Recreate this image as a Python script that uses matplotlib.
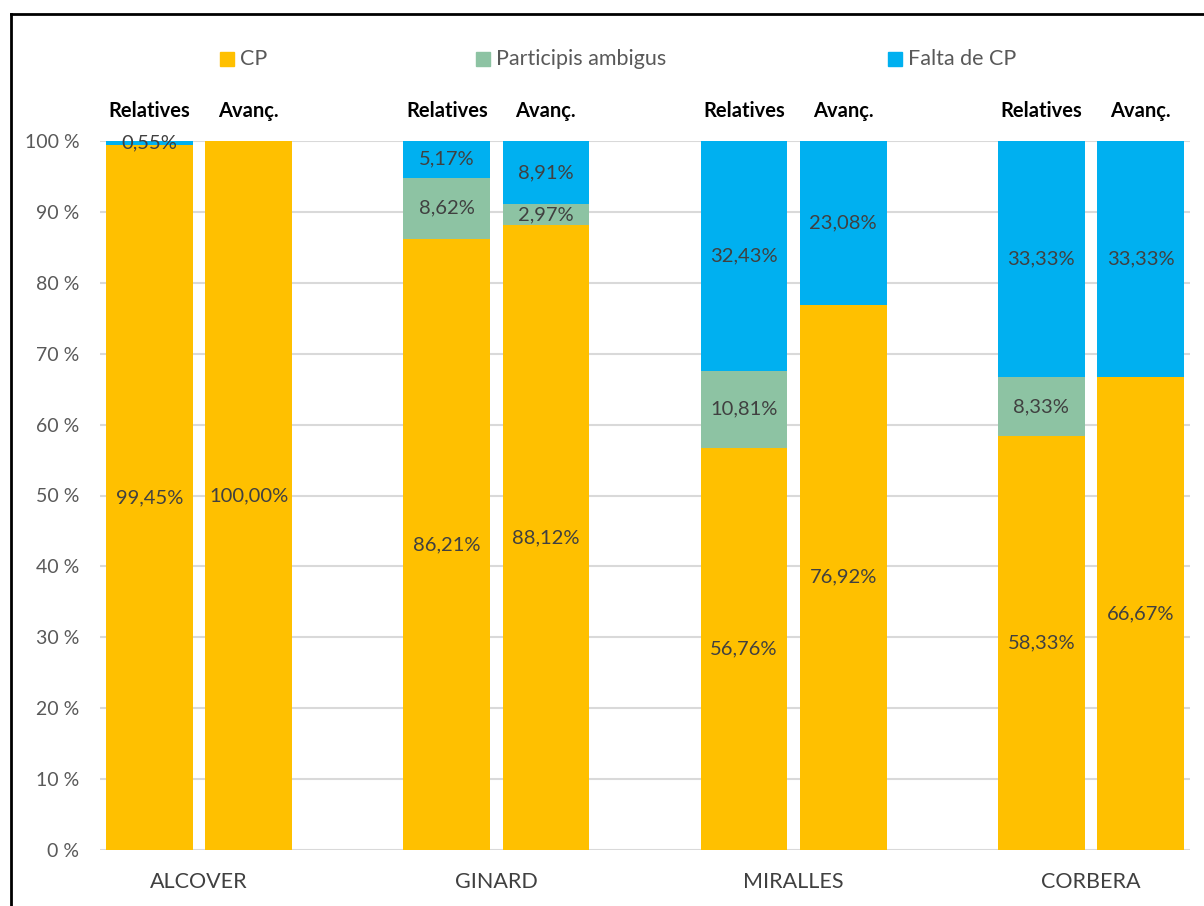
import matplotlib.pyplot as plt
from matplotlib.patches import Rectangle
from matplotlib.lines import Line2D

# Percentages per author and text type
authors = ["ALCOVER", "GINARD", "MIRALLES", "CORBERA"]
bar_types = ["Relatives", "Avanç."]
series_names = ["CP", "Participis ambigus", "Falta de CP"]
cp = [99.45, 100.00, 86.21, 88.12, 56.76, 76.92, 58.33, 66.67]
ambigus = [0.00, 0.00, 8.62, 2.97, 10.81, 0.00, 8.33, 0.00]
falta = [0.55, 0.00, 5.17, 8.91, 32.43, 23.08, 33.33, 33.33]
yticks = [0, 10, 20, 30, 40, 50, 60, 70, 80, 90, 100]

colors = ["#FFC000", "#8DC3A3", "#00B0F0"]
font = "Lato"
plt.rcParams["font.family"] = [font, "DejaVu Sans"]

fig = plt.figure(figsize=(12.04, 9.06), dpi=100)
ax = fig.add_axes([100 / 1204, 56 / 906, 1090 / 1204, 709 / 906])

# bar positions: two bars per author, one empty slot between authors
xpos = []
for g in range(len(authors)):
    xpos += [3 * g, 3 * g + 1]

bottom = [0.0] * len(xpos)
for vals, col in zip([cp, ambigus, falta], colors):
    ax.bar(xpos, vals, bottom=bottom, width=0.875, color=col, zorder=2)
    for x, b, v in zip(xpos, bottom, vals):
        if v > 0:
            ax.text(x, b + v / 2, f"{v:.2f}%".replace(".", ","), ha="center",
                    va="center", fontsize=14.5, color="#404040", zorder=3)
    bottom = [b + v for b, v in zip(bottom, vals)]

ax.set_xlim(-0.5, 10.5)
ax.set_ylim(0, 100)
ax.set_yticks(yticks)
ax.set_yticklabels([f"{t} %" for t in yticks], fontsize=14, color="#595959")
ax.set_xticks([3 * g + 0.5 for g in range(len(authors))])
ax.set_xticklabels(authors, fontsize=15.5, color="#404040")
ax.tick_params(axis="both", length=0)
ax.tick_params(axis="y", pad=15)
ax.tick_params(axis="x", pad=16)
ax.grid(axis="y", color="#D9D9D9", linewidth=1.5, zorder=0)
for s in ax.spines.values():
    s.set_visible(False)

# bar type headers above each bar
for x, name in zip(xpos, bar_types * len(authors)):
    ax.text(x, 104.2, name, ha="center", va="center", fontsize=14.5,
            fontweight="bold", color="black", clip_on=False)

# legend row
legend_x = [220, 476, 888]
for lx, name, col in zip(legend_x, series_names, colors):
    fig.patches.append(Rectangle((lx / 1204, 1 - 66 / 906), 14 / 1204, 14 / 906,
                                 transform=fig.transFigure, color=col))
    fig.text((lx + 20) / 1204, 1 - 59 / 906, name, ha="left", va="center",
             fontsize=15.5, color="#595959")

# chart frame edges
fig.add_artist(Line2D([11 / 1204, 11 / 1204], [0, 1 - 14 / 906],
                      transform=fig.transFigure, color="black", linewidth=2))
fig.add_artist(Line2D([11 / 1204, 1], [1 - 14 / 906, 1 - 14 / 906],
                      transform=fig.transFigure, color="black", linewidth=2))

fig.savefig("out.png", dpi=100)
